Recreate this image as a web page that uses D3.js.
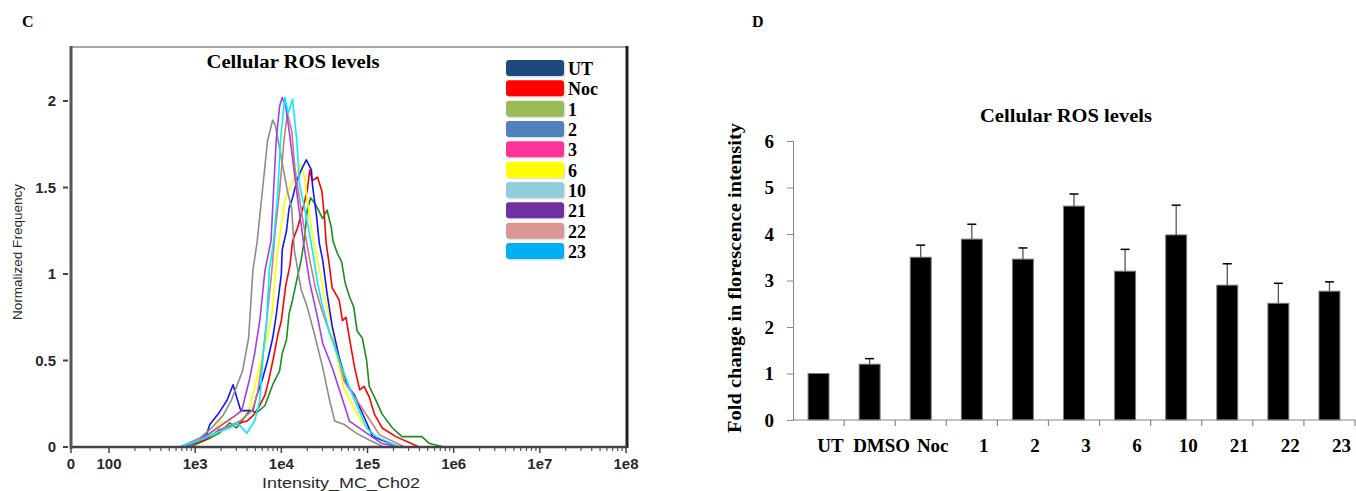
<!DOCTYPE html>
<html>
<head>
<meta charset="utf-8">
<script src="https://cdn.jsdelivr.net/npm/d3@7"></script>
<style>
body { margin: 0; background: #fff; }
svg { display: block; }
</style>
</head>
<body>
<script>
// ---------- Panel C: histogramas (x = log10 intensidad, y = frecuencia normalizada)
const histGray = [[2.82,0],[3.05,0.05],[3.17,0.10],[3.32,0.18],[3.42,0.27],[3.55,0.44],[3.62,0.63],[3.67,1.02],[3.72,1.19],[3.78,1.48],[3.84,1.77],[3.90,1.89],[3.93,1.86],[4.00,1.67],[4.07,1.48],[4.12,1.38],[4.15,1.14],[4.23,0.91],[4.30,0.81],[4.38,0.66],[4.48,0.46],[4.56,0.27],[4.62,0.15],[4.73,0.13],[4.87,0.08],[5.02,0.04],[5.19,0]];
const histViolet = [[2.88,0],[3.05,0.04],[3.23,0.10],[3.46,0.18],[3.54,0.21],[3.57,0.27],[3.63,0.39],[3.69,0.54],[3.75,0.73],[3.81,1.02],[3.88,1.19],[3.91,1.48],[3.94,1.77],[3.98,1.97],[4.01,2.02],[4.05,1.97],[4.09,1.83],[4.14,1.63],[4.19,1.43],[4.27,1.14],[4.33,0.95],[4.42,0.75],[4.48,0.60],[4.59,0.46],[4.70,0.29],[4.79,0.15],[4.99,0.08],[5.17,0.02],[5.37,0]];
const histCyan = [[2.82,0],[3.05,0.04],[3.23,0.08],[3.40,0.11],[3.49,0.14],[3.60,0.08],[3.69,0.15],[3.75,0.27],[3.79,0.54],[3.83,0.73],[3.86,1.02],[3.91,1.19],[3.96,1.48],[3.99,1.77],[4.04,2.02],[4.08,1.93],[4.13,2.01],[4.18,1.77],[4.21,1.52],[4.29,1.33],[4.36,1.14],[4.42,0.95],[4.47,0.83],[4.56,0.66],[4.70,0.46],[4.85,0.27],[4.99,0.11],[5.10,0.06],[5.37,0]];
const histRosy = [[2.88,0],[3.11,0.05],[3.34,0.11],[3.52,0.15],[3.66,0.21],[3.72,0.30],[3.78,0.50],[3.83,0.73],[3.89,1.02],[3.93,1.25],[3.98,1.48],[4.03,1.77],[4.07,1.93],[4.12,1.83],[4.16,1.60],[4.25,1.31],[4.33,1.08],[4.40,0.91],[4.47,0.79],[4.56,0.66],[4.64,0.56],[4.73,0.38],[4.93,0.23],[5.14,0.07],[5.43,0]];
const histBlue = [[2.88,0],[3.05,0.04],[3.13,0.07],[3.17,0.13],[3.28,0.20],[3.37,0.27],[3.44,0.36],[3.48,0.29],[3.53,0.21],[3.67,0.21],[3.71,0.29],[3.78,0.39],[3.84,0.50],[3.90,0.63],[3.94,0.76],[4.00,1.00],[4.01,1.14],[4.06,1.25],[4.09,1.38],[4.13,1.44],[4.18,1.54],[4.23,1.60],[4.29,1.66],[4.35,1.60],[4.36,1.52],[4.41,1.33],[4.44,1.18],[4.48,1.08],[4.53,0.89],[4.59,0.70],[4.67,0.52],[4.77,0.35],[4.85,0.30],[4.91,0.23],[4.99,0.14],[5.06,0.06],[5.37,0]];
const histYellow = [[2.88,0],[3.20,0.08],[3.28,0.14],[3.40,0.15],[3.48,0.19],[3.63,0.22],[3.71,0.39],[3.78,0.53],[3.84,0.65],[3.89,0.76],[3.93,1.00],[3.96,1.14],[4.00,1.28],[4.03,1.40],[4.07,1.47],[4.12,1.52],[4.16,1.57],[4.23,1.63],[4.27,1.56],[4.30,1.43],[4.36,1.23],[4.41,1.10],[4.47,0.96],[4.51,0.85],[4.57,0.73],[4.64,0.53],[4.73,0.33],[4.82,0.25],[4.94,0.14],[5.10,0.06],[5.37,0]];
const histRed = [[2.88,0],[3.11,0.04],[3.28,0.10],[3.46,0.13],[3.60,0.15],[3.67,0.18],[3.75,0.24],[3.81,0.30],[3.86,0.40],[3.91,0.52],[3.96,0.65],[4.00,0.73],[4.05,0.93],[4.10,1.05],[4.13,1.19],[4.19,1.27],[4.25,1.38],[4.30,1.48],[4.33,1.60],[4.36,1.54],[4.42,1.56],[4.47,1.48],[4.50,1.33],[4.52,1.18],[4.56,1.04],[4.59,0.92],[4.67,0.85],[4.71,0.73],[4.75,0.75],[4.79,0.63],[4.85,0.46],[4.91,0.33],[4.96,0.35],[5.02,0.29],[5.08,0.19],[5.17,0.11],[5.33,0.06],[5.60,0]];
const histGreen = [[2.94,0],[3.17,0.05],[3.28,0.08],[3.40,0.14],[3.48,0.11],[3.63,0.21],[3.72,0.20],[3.81,0.24],[3.90,0.36],[3.98,0.44],[4.01,0.54],[4.06,0.62],[4.09,0.77],[4.13,0.85],[4.19,0.99],[4.23,1.08],[4.27,1.21],[4.30,1.37],[4.34,1.44],[4.40,1.40],[4.48,1.32],[4.53,1.37],[4.58,1.27],[4.60,1.19],[4.65,1.12],[4.70,1.07],[4.74,0.95],[4.79,0.87],[4.84,0.81],[4.88,0.67],[4.94,0.63],[4.99,0.50],[5.02,0.35],[5.08,0.29],[5.17,0.19],[5.29,0.11],[5.40,0.06],[5.63,0.06],[5.72,0.02],[5.89,0]];

const histogramas = [
  { color: "#1e8c1e", datos: histGreen },
  { color: "#ff0000", datos: histRed },
  { color: "#ffff00", datos: histYellow },
  { color: "#1414ff", datos: histBlue },
  { color: "#8c8c8c", datos: histGray },
  { color: "#c97a7a", datos: histRosy },
  { color: "#a040e8", datos: histViolet },
  { color: "#00f0ff", datos: histCyan }
];

const leyendaNombres = ["UT", "Noc", "1", "2", "3", "6", "10", "21", "22", "23"];
const leyendaColores = ["#1f497d", "#ff0000", "#9bbb59", "#4f81bd", "#ff3399", "#ffff00", "#92cddc", "#7030a0", "#d99694", "#00b0f0"];

const ejeXValores = [2, 3, 4, 5, 6, 7, 8];
const ejeXEtiquetas = ["100", "1e3", "1e4", "1e5", "1e6", "1e7", "1e8"];
const ejeYValoresC = [0, 0.5, 1, 1.5, 2];

// ---------- Panel D: barras
const categorias = ["UT", "DMSO", "Noc", "1", "2", "3", "6", "10", "21", "22", "23"];
const valores = [1.0, 1.2, 3.5, 3.89, 3.46, 4.6, 3.2, 3.98, 2.9, 2.51, 2.77];
const errores = [0, 0.12, 0.26, 0.32, 0.24, 0.26, 0.47, 0.64, 0.46, 0.43, 0.2];
const ejeYValoresD = [0, 1, 2, 3, 4, 5, 6];

const width = 1356;
const height = 491;
const serif = "'Liberation Serif', 'Times New Roman', serif";
const sans = "'Liberation Sans', Arial, sans-serif";

const svg = d3.select("body").append("svg")
  .attr("width", width)
  .attr("height", height);

svg.append("rect").attr("width", width).attr("height", height).attr("fill", "#fff");

// ================= PANEL C =================
const frameC = { left: 71, right: 627, top: 47, bottom: 447 };

const xCero = d3.scaleLinear().domain([0, 100]).range([frameC.left, 109]);
const xLog = d3.scaleLinear().domain([2, 8]).range([109, 626]);
const yC = d3.scaleLinear().domain([0, 2]).range([frameC.bottom, 101]);

svg.append("text")
  .attr("x", 22).attr("y", 27)
  .style("font-family", serif).style("font-weight", "bold").style("font-size", "16px")
  .text("C");

// marco
svg.append("line")
  .attr("x1", frameC.left).attr("x2", frameC.right)
  .attr("y1", frameC.top).attr("y2", frameC.top)
  .attr("stroke", "#888").attr("stroke-width", 1.5);
svg.append("line")
  .attr("x1", frameC.right).attr("x2", frameC.right)
  .attr("y1", frameC.top - 1).attr("y2", frameC.bottom + 1)
  .attr("stroke", "#222").attr("stroke-width", 3);

// curvas
const linea = d3.line();
histogramas.forEach(function (h) {
  const puntos = [[xCero(0), yC(0)]]
    .concat(h.datos.map(d => [xLog(d[0]), yC(d[1])]))
    .concat([[xLog(8), yC(0)]]);
  svg.append("path")
    .attr("d", linea(puntos))
    .attr("fill", "none")
    .attr("stroke", h.color)
    .attr("stroke-width", 1.6)
    .attr("stroke-linejoin", "round");
});

// eje X
const gX = svg.append("g");
gX.append("line")
  .attr("x1", frameC.left - 1).attr("x2", frameC.right)
  .attr("y1", frameC.bottom).attr("y2", frameC.bottom)
  .attr("stroke", "#444").attr("stroke-width", 2.5);

const menores = [];
ejeXValores.slice(0, -1).forEach(function (dec) {
  for (let k = 2; k <= 9; k++) menores.push(dec + Math.log10(k));
});
gX.selectAll("line.menor").data(menores).enter().append("line")
  .attr("class", "menor")
  .attr("x1", d => xLog(d)).attr("x2", d => xLog(d))
  .attr("y1", frameC.bottom + 1).attr("y2", frameC.bottom + 4)
  .attr("stroke", "#555").attr("stroke-width", 1.2);

const mayores = [{ x: xCero(0), t: "0" }].concat(ejeXValores.map((v, i) => ({ x: xLog(v), t: ejeXEtiquetas[i] })));
gX.selectAll("line.mayor").data(mayores).enter().append("line")
  .attr("class", "mayor")
  .attr("x1", d => d.x).attr("x2", d => d.x)
  .attr("y1", frameC.bottom + 1).attr("y2", frameC.bottom + 6)
  .attr("stroke", "#444").attr("stroke-width", 1.5);
gX.selectAll("text").data(mayores).enter().append("text")
  .attr("x", d => d.x).attr("y", 469)
  .attr("text-anchor", "middle")
  .attr("fill", "#2a2a2a")
  .style("font-family", sans).style("font-weight", "bold").style("font-size", "15px")
  .text(d => d.t);

svg.append("text")
  .attr("x", 341).attr("y", 488)
  .attr("text-anchor", "middle")
  .attr("textLength", 158).attr("lengthAdjust", "spacingAndGlyphs")
  .attr("fill", "#2a2a2a")
  .style("font-family", sans).style("font-size", "14px")
  .text("Intensity_MC_Ch02");

// eje Y
const gY = svg.append("g");
gY.append("line")
  .attr("x1", frameC.left).attr("x2", frameC.left)
  .attr("y1", frameC.top - 1).attr("y2", frameC.bottom + 2)
  .attr("stroke", "#555").attr("stroke-width", 3);
gY.selectAll("line.tick").data(ejeYValoresC).enter().append("line")
  .attr("class", "tick")
  .attr("x1", 63).attr("x2", 68)
  .attr("y1", d => yC(d)).attr("y2", d => yC(d))
  .attr("stroke", "#444").attr("stroke-width", 2);
gY.selectAll("text").data(ejeYValoresC).enter().append("text")
  .attr("x", 56).attr("y", d => yC(d))
  .attr("dy", "0.35em")
  .attr("text-anchor", "end")
  .attr("fill", "#2a2a2a")
  .style("font-family", sans).style("font-weight", "bold").style("font-size", "15px")
  .text(d => d);

svg.append("text")
  .attr("transform", "translate(22,252) rotate(-90)")
  .attr("text-anchor", "middle")
  .attr("textLength", 136).attr("lengthAdjust", "spacingAndGlyphs")
  .attr("fill", "#2a2a2a")
  .style("font-family", sans).style("font-size", "13px")
  .text("Normalized Frequency");

// titulo C
svg.append("text")
  .attr("x", 293).attr("y", 68)
  .attr("text-anchor", "middle")
  .attr("textLength", 173).attr("lengthAdjust", "spacingAndGlyphs")
  .style("font-family", serif).style("font-weight", "bold").style("font-size", "18px")
  .text("Cellular ROS levels");

// leyenda
const paso = 20.33;
const gLey = svg.append("g");
leyendaNombres.forEach(function (nombre, i) {
  const y0 = 60 + i * paso;
  gLey.append("rect")
    .attr("x", 507.5).attr("y", y0 + 1.5)
    .attr("width", 58).attr("height", 16).attr("rx", 3)
    .attr("fill", "#000").attr("opacity", 0.12);
  gLey.append("rect")
    .attr("x", 506).attr("y", y0)
    .attr("width", 58).attr("height", 16).attr("rx", 3)
    .attr("fill", leyendaColores[i]);
  gLey.append("text")
    .attr("x", 568).attr("y", y0 + 15)
    .style("font-family", serif).style("font-weight", "bold").style("font-size", "18px")
    .text(nombre);
});

// ================= PANEL D =================
const frameD = { left: 793, right: 1355, top: 141, bottom: 420 };

svg.append("text")
  .attr("x", 752).attr("y", 27)
  .style("font-family", serif).style("font-weight", "bold").style("font-size", "16px")
  .text("D");

const xD = d3.scaleBand()
  .domain(categorias)
  .range([frameD.left, frameD.right])
  .paddingInner(0.59)
  .paddingOuter(0.295);
const yD = d3.scaleLinear().domain([0, 6]).range([frameD.bottom, frameD.top]);

// barras
svg.append("g").selectAll("rect").data(categorias).enter().append("rect")
  .attr("x", d => xD(d))
  .attr("y", (d, i) => yD(valores[i]))
  .attr("width", xD.bandwidth())
  .attr("height", (d, i) => yD(0) - yD(valores[i]))
  .attr("fill", "#000")
  .attr("stroke", "#7a7a7a")
  .attr("stroke-width", 1);

// barras de error
const gErr = svg.append("g");
categorias.forEach(function (c, i) {
  if (errores[i] <= 0) return;
  const cx = xD(c) + xD.bandwidth() / 2;
  gErr.append("line")
    .attr("x1", cx).attr("x2", cx)
    .attr("y1", yD(valores[i])).attr("y2", yD(valores[i] + errores[i]))
    .attr("stroke", "#555").attr("stroke-width", 1.3);
  gErr.append("line")
    .attr("x1", cx - 4.5).attr("x2", cx + 4.5)
    .attr("y1", yD(valores[i] + errores[i])).attr("y2", yD(valores[i] + errores[i]))
    .attr("stroke", "#000").attr("stroke-width", 1.5);
});

// eje Y D
const ejeYD = d3.axisLeft(yD)
  .tickValues(ejeYValoresD)
  .tickFormat(d3.format("d"))
  .tickSize(6)
  .tickPadding(13);
const gYD = svg.append("g")
  .attr("transform", "translate(" + frameD.left + ",0)")
  .call(ejeYD);
gYD.select(".domain").attr("stroke", "#888");
gYD.selectAll(".tick line").attr("stroke", "#888");
gYD.selectAll(".tick text")
  .attr("fill", "#000")
  .style("font-family", serif).style("font-weight", "bold").style("font-size", "19px");

// eje X D
const gXD = svg.append("g");
gXD.append("line")
  .attr("x1", frameD.left).attr("x2", frameD.right)
  .attr("y1", frameD.bottom).attr("y2", frameD.bottom)
  .attr("stroke", "#888").attr("stroke-width", 1.2);
gXD.selectAll("line.tick").data(categorias).enter().append("line")
  .attr("class", "tick")
  .attr("x1", d => xD(d) + xD.bandwidth() / 2 + xD.step() / 2)
  .attr("x2", d => xD(d) + xD.bandwidth() / 2 + xD.step() / 2)
  .attr("y1", frameD.bottom).attr("y2", frameD.bottom + 6)
  .attr("stroke", "#888").attr("stroke-width", 1.2);
gXD.selectAll("text").data(categorias).enter().append("text")
  .attr("x", d => xD(d) + xD.bandwidth() / 2 + 12)
  .attr("y", 452)
  .attr("text-anchor", "middle")
  .style("font-family", serif).style("font-weight", "bold").style("font-size", "19px")
  .text(d => d);

svg.append("text")
  .attr("transform", "translate(741,278) rotate(-90)")
  .attr("text-anchor", "middle")
  .attr("textLength", 310).attr("lengthAdjust", "spacingAndGlyphs")
  .style("font-family", serif).style("font-weight", "bold").style("font-size", "18px")
  .text("Fold change in florescence intensity");

svg.append("text")
  .attr("x", 1066).attr("y", 122)
  .attr("text-anchor", "middle")
  .attr("textLength", 172).attr("lengthAdjust", "spacingAndGlyphs")
  .style("font-family", serif).style("font-weight", "bold").style("font-size", "18px")
  .text("Cellular ROS levels");
</script>
</body>
</html>
